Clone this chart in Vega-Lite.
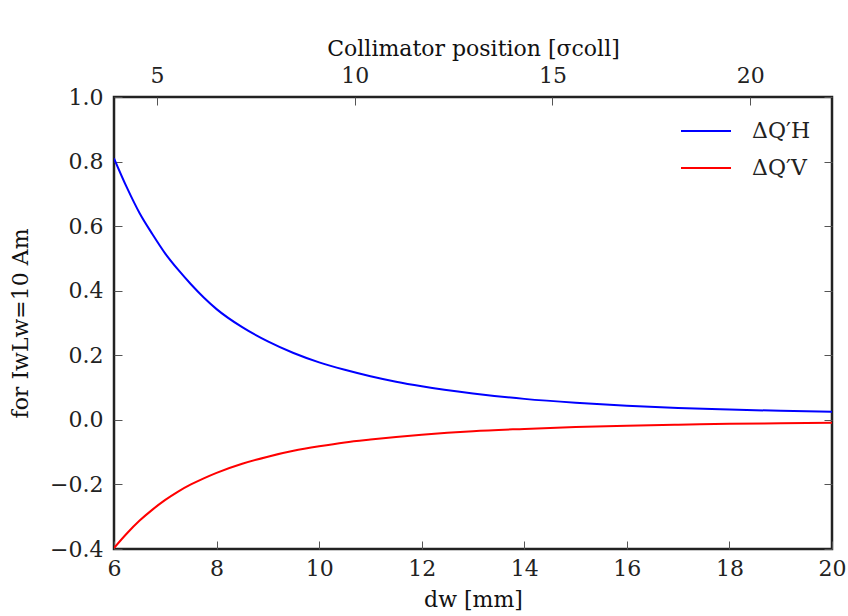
{
  "$schema": "https://vega.github.io/schema/vega-lite/v6.json",
  "width": 718,
  "height": 452,
  "autosize": {"type": "none"},
  "padding": {"left": 114, "top": 97, "right": 16, "bottom": 67},
  "background": "white",
  "config": {
    "view": {"stroke": "#222222", "strokeWidth": 2.5},
    "font": "DejaVu Serif",
    "axis": {
      "domain": false,
      "grid": false,
      "tickSize": -8,
      "tickColor": "#555555",
      "tickWidth": 1,
      "labelFont": "DejaVu Serif",
      "labelFontSize": 22,
      "labelColor": "#222222",
      "titleFont": "DejaVu Serif",
      "titleFontSize": 22,
      "titleFontWeight": "normal",
      "titleColor": "#111111",
      "labelFlush": false,
      "labelOverlap": false
    },
    "legend": {
      "labelFont": "DejaVu Serif",
      "labelFontSize": 22,
      "labelColor": "#222222"
    }
  },
  "datasets": {
    "curves": [
      {"d": 6.0, "value": 0.81, "series": "ΔQ′H"},
      {"d": 6.25, "value": 0.72, "series": "ΔQ′H"},
      {"d": 6.5, "value": 0.64, "series": "ΔQ′H"},
      {"d": 6.75, "value": 0.575, "series": "ΔQ′H"},
      {"d": 7.0, "value": 0.515, "series": "ΔQ′H"},
      {"d": 7.25, "value": 0.465, "series": "ΔQ′H"},
      {"d": 7.5, "value": 0.42, "series": "ΔQ′H"},
      {"d": 7.75, "value": 0.379, "series": "ΔQ′H"},
      {"d": 8.0, "value": 0.343, "series": "ΔQ′H"},
      {"d": 8.5, "value": 0.287, "series": "ΔQ′H"},
      {"d": 9.0, "value": 0.243, "series": "ΔQ′H"},
      {"d": 9.5, "value": 0.207, "series": "ΔQ′H"},
      {"d": 10.0, "value": 0.178, "series": "ΔQ′H"},
      {"d": 10.5, "value": 0.155, "series": "ΔQ′H"},
      {"d": 11.0, "value": 0.135, "series": "ΔQ′H"},
      {"d": 11.5, "value": 0.118, "series": "ΔQ′H"},
      {"d": 12.0, "value": 0.104, "series": "ΔQ′H"},
      {"d": 13.0, "value": 0.082, "series": "ΔQ′H"},
      {"d": 14.0, "value": 0.065, "series": "ΔQ′H"},
      {"d": 15.0, "value": 0.053, "series": "ΔQ′H"},
      {"d": 16.0, "value": 0.044, "series": "ΔQ′H"},
      {"d": 17.0, "value": 0.037, "series": "ΔQ′H"},
      {"d": 18.0, "value": 0.032, "series": "ΔQ′H"},
      {"d": 19.0, "value": 0.028, "series": "ΔQ′H"},
      {"d": 20.0, "value": 0.025, "series": "ΔQ′H"},
      {"d": 6.0, "value": -0.397, "series": "ΔQ′V"},
      {"d": 6.25, "value": -0.352, "series": "ΔQ′V"},
      {"d": 6.5, "value": -0.312, "series": "ΔQ′V"},
      {"d": 6.75, "value": -0.278, "series": "ΔQ′V"},
      {"d": 7.0, "value": -0.248, "series": "ΔQ′V"},
      {"d": 7.25, "value": -0.222, "series": "ΔQ′V"},
      {"d": 7.5, "value": -0.2, "series": "ΔQ′V"},
      {"d": 7.75, "value": -0.181, "series": "ΔQ′V"},
      {"d": 8.0, "value": -0.164, "series": "ΔQ′V"},
      {"d": 8.5, "value": -0.136, "series": "ΔQ′V"},
      {"d": 9.0, "value": -0.114, "series": "ΔQ′V"},
      {"d": 9.5, "value": -0.096, "series": "ΔQ′V"},
      {"d": 10.0, "value": -0.082, "series": "ΔQ′V"},
      {"d": 10.5, "value": -0.07, "series": "ΔQ′V"},
      {"d": 11.0, "value": -0.061, "series": "ΔQ′V"},
      {"d": 11.5, "value": -0.053, "series": "ΔQ′V"},
      {"d": 12.0, "value": -0.046, "series": "ΔQ′V"},
      {"d": 13.0, "value": -0.035, "series": "ΔQ′V"},
      {"d": 14.0, "value": -0.028, "series": "ΔQ′V"},
      {"d": 15.0, "value": -0.022, "series": "ΔQ′V"},
      {"d": 16.0, "value": -0.018, "series": "ΔQ′V"},
      {"d": 17.0, "value": -0.015, "series": "ΔQ′V"},
      {"d": 18.0, "value": -0.012, "series": "ΔQ′V"},
      {"d": 19.0, "value": -0.0105, "series": "ΔQ′V"},
      {"d": 20.0, "value": -0.009, "series": "ΔQ′V"}
    ],
    "collimator": [
      {"sigma": 5},
      {"sigma": 10},
      {"sigma": 15},
      {"sigma": 20}
    ]
  },
  "layer": [
    {
      "data": {"name": "curves"},
      "mark": {"type": "line", "strokeWidth": 2, "interpolate": "monotone", "clip": true},
      "encoding": {
        "x": {
          "field": "d",
          "type": "quantitative",
          "scale": {"domain": [6, 20], "nice": false, "zero": false},
          "axis": {
            "orient": "bottom",
            "values": [6, 8, 10, 12, 14, 16, 18, 20],
            "format": "d",
            "labelPadding": 17,
            "title": "dw [mm]",
            "titlePadding": 10
          }
        },
        "y": {
          "field": "value",
          "type": "quantitative",
          "scale": {"domain": [-0.4, 1.0], "nice": false, "zero": false},
          "axis": {
            "orient": "left",
            "values": [-0.4, -0.2, 0, 0.2, 0.4, 0.6, 0.8, 1.0],
            "format": ".1f",
            "labelPadding": 19,
            "title": "for IwLw=10 Am",
            "titlePadding": 17
          }
        },
        "color": {
          "field": "series",
          "type": "nominal",
          "scale": {"domain": ["ΔQ′H", "ΔQ′V"], "range": ["#0000ff", "#ff0000"]},
          "legend": {
            "title": null,
            "orient": "none",
            "legendX": 566,
            "legendY": 8,
            "symbolType": "stroke",
            "symbolSize": 2500,
            "symbolStrokeWidth": 2,
            "labelOffset": 20,
            "rowPadding": -14
          }
        }
      }
    },
    {
      "data": {"name": "collimator"},
      "mark": {"type": "point", "opacity": 0},
      "encoding": {
        "x": {
          "field": "sigma",
          "type": "quantitative",
          "scale": {"domain": [3.91, 22.07], "nice": false, "zero": false},
          "axis": {
            "orient": "top",
            "values": [5, 10, 15, 20],
            "format": "d",
            "labelPadding": 18,
            "title": "Collimator position [σcoll]",
            "titlePadding": 4
          }
        },
        "y": {
          "datum": 0,
          "type": "quantitative",
          "axis": {
            "orient": "right",
            "values": [-0.4, -0.2, 0, 0.2, 0.4, 0.6, 0.8, 1.0],
            "labels": false,
            "title": null
          }
        }
      }
    }
  ],
  "resolve": {
    "scale": {"x": "independent", "y": "shared"},
    "axis": {"x": "independent", "y": "independent"}
  }
}
